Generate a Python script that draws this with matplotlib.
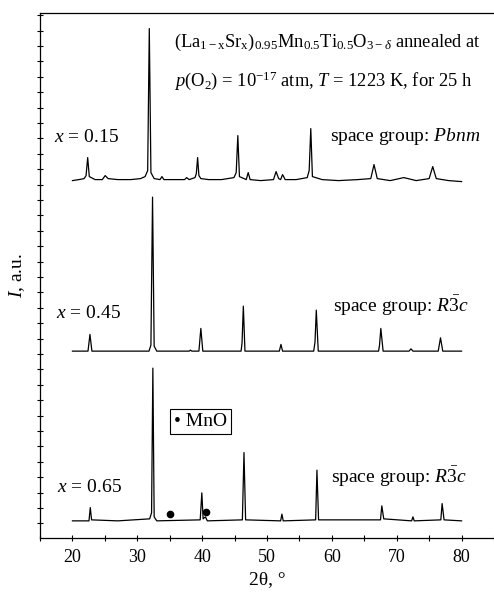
import numpy as np
import matplotlib
matplotlib.use('Agg')
import matplotlib.pyplot as plt
from matplotlib.ticker import MultipleLocator, FixedLocator, NullFormatter

plt.rcParams['font.family'] = ['Liberation Serif', 'DejaVu Serif']
plt.rcParams['mathtext.fontset'] = 'custom'
plt.rcParams['mathtext.rm'] = 'Liberation Serif'
plt.rcParams['mathtext.it'] = 'Liberation Serif:italic'
plt.rcParams['mathtext.bf'] = 'Liberation Serif:bold'

# XRD-профили (2θ, интенсивность над фоном)
pts_015 = [(20.0, 0), (21.0, 1), (21.8, 2), (22.1, 5), (22.35, 23), (22.6, 4), (23.5, 1),
           (24.6, 1), (25.05, 5), (25.5, 2), (27.0, 1), (29.0, 1), (30.5, 2),
           (31.2, 4), (31.6, 10), (31.85, 152), (32.1, 8), (32.6, 2), (33.5, 1),
           (33.8, 4), (34.1, 1), (36.0, 1), (37.3, 1), (37.6, 3), (38.0, 1),
           (38.9, 3), (39.1, 7), (39.3, 23), (39.5, 5), (39.8, 2), (41.0, 1), (43.0, 1), (44.9, 3),
           (45.25, 8), (45.5, 45), (45.75, 4), (46.8, 1), (47.1, 8), (47.4, 1), (49.0, 0),
           (51.0, 1), (51.4, 9), (51.8, 2), (52.1, 1), (52.4, 6), (52.8, 1),
           (54.5, 1), (56.2, 3), (56.5, 10), (56.75, 52), (57.0, 4), (58.5, 1), (61.0, 0),
           (64.0, 1), (66.0, 2), (66.5, 16), (67.0, 2), (69.0, 0), (71.1, 3),
           (73.0, 0), (75.0, 2), (75.55, 14), (76.1, 2), (78.0, 0), (80.0, -1)]

pts_045 = [(20.0, 0), (22.4, 0), (22.7, 16.7), (23.0, 0), (28.0, 0), (31.8, 0),
           (32.1, 6), (32.35, 154), (32.6, 5), (33.0, 0), (38.0, 0), (38.2, 1),
           (38.4, 0), (39.5, 0), (39.8, 22.7), (40.1, 0), (46.0, 0), (46.15, 8), (46.35, 45),
           (46.6, 0), (51.9, 0), (52.15, 6.7), (52.4, 0), (57.2, 0), (57.4, 9), (57.6, 41),
           (57.9, 0), (67.2, 0), (67.35, 6), (67.55, 22.7), (67.9, 0), (71.9, 0), (72.2, 2.3),
           (72.5, 0), (76.4, 0), (76.75, 13.3), (77.1, 0), (80.0, 0)]

pts_065 = [(20.0, 0), (22.55, 0), (22.75, 13.3), (22.95, 1), (27.0, 0), (31.9, 2),
           (32.2, 8), (32.4, 152.7), (32.6, 4), (33.0, 0), (39.7, 1), (39.95, 28),
           (40.15, 2), (40.5, 4), (40.8, 0), (46.2, 1), (46.45, 68.3), (46.7, 1),
           (52.1, 0), (52.3, 6.7), (52.5, 0), (57.5, 1), (57.7, 50.7), (57.95, 1),
           (67.5, 1), (67.7, 15), (68.0, 2), (72.3, 0), (72.5, 4), (72.7, 0),
           (76.8, 1), (77.0, 17.3), (77.3, 1), (80.0, 0)]

offsets = [357.5, 187, 17.3]
labels_x = ['$x$ = 0.15', '$x$ = 0.45', '$x$ = 0.65']
space_groups = ['space group: $Pbnm$', r'space group: $R\bar{3}c$', r'space group: $R\bar{3}c$']

# Рефлексы MnO
mno_x = [35.0, 40.6]
mno_y = [24.3, 25.7]

fig = plt.figure(figsize=(4.94, 5.94), dpi=100)
ax = fig.add_axes([0.081, 0.094, 0.919, 0.884])

for pts, off in zip([pts_015, pts_045, pts_065], offsets):
    x, y = zip(*pts)
    ax.plot(x, np.array(y) + off, color='black', lw=0.9)

ax.plot(mno_x, mno_y, 'o', color='black', ms=4.5)

fs = 14
ax.text(17.2, 401, labels_x[0], fontsize=fs, va='center')
ax.text(17.5, 225, labels_x[1], fontsize=fs, va='center')
ax.text(17.6, 51, labels_x[2], fontsize=fs, va='center')

ax.text(83.0, 402, space_groups[0], fontsize=fs, va='center', ha='right')
ax.text(81.2, 232, space_groups[1], fontsize=fs, va='center', ha='right')
ax.text(80.9, 61, space_groups[2], fontsize=fs, va='center', ha='right')

ax.text(35.7, 491, r'(La$_{\mathrm{1-x}}$Sr$_{\mathrm{x}}$)$_{0.95}$Mn$_{0.5}$Ti$_{0.5}$O$_{\mathrm{3-}\delta}$ annealed at',
        fontsize=13.3, va='baseline')
ax.text(35.7, 452, r'$p$(O$_2$) = 10$^{-17}$ atm, $T$ = 1223 K, for 25 h',
        fontsize=13.3, va='baseline')

ax.text(39.75, 117, u'\u2022 MnO', fontsize=fs, ha='center', va='center',
        bbox=dict(boxstyle='square,pad=0.2', fc='white', ec='black', lw=0.8))

ax.set_xlim(15, 85)
ax.set_ylim(0, 525)
ax.xaxis.set_minor_locator(MultipleLocator(5))
ax.set_xticks([20, 30, 40, 50, 60, 70, 80])
ax.yaxis.set_major_locator(FixedLocator(np.arange(14.7, 525, 15.4)))
ax.yaxis.set_major_formatter(NullFormatter())
ax.tick_params(axis='both', which='both', direction='inout', length=5, width=0.8, labelsize=13)
ax.tick_params(axis='x', pad=5)
ax.tick_params(axis='y', length=4)
ax.tick_params(top=False, right=False)
ax.spines['right'].set_visible(False)

ax.set_xlabel(u'2\u03b8, \u00b0', fontsize=fs, labelpad=4)
ax.set_ylabel('$I$, a.u.', fontsize=fs, labelpad=4)

for s in ax.spines.values():
    s.set_linewidth(0.9)

fig.savefig('out.png', dpi=100)
